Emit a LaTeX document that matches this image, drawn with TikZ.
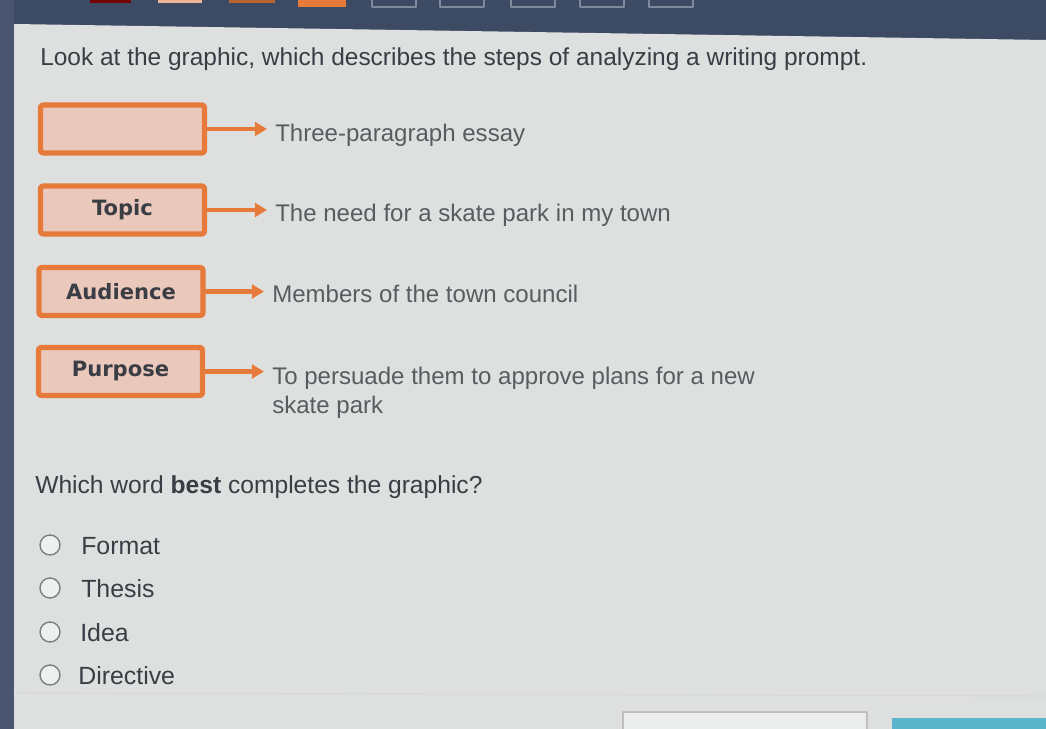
\documentclass[tikz,border=0pt]{standalone}
\usepackage{fontspec}
\setmainfont{Liberation Sans}
\newfontfamily\boxfont{DejaVu Sans}
\usepackage{xcolor}
\usetikzlibrary{arrows.meta,positioning}
\definecolor{screen}{HTML}{3D4A63}
\definecolor{rim}{HTML}{4A5671}
\definecolor{panel}{HTML}{DEE0DF}
\definecolor{orange}{HTML}{E67A3A}
\definecolor{peach}{HTML}{EBC8BC}
\definecolor{ink}{HTML}{3A3D44}
\definecolor{soft}{HTML}{595B60}
\definecolor{ring}{HTML}{7C7E82}
\definecolor{teal}{HTML}{5CB6CB}
\tikzset{
  StepBox/.style={
    draw=orange, line width=3.8pt,
    fill=peach, rounded corners=2pt,
    minimum width=4.1cm, minimum height=1.2cm, inner sep=0pt,
    text=ink, font=\boxfont\bfseries\fontsize{15}{18}\selectfont
  },
  StepText/.style={
    anchor=base west, inner sep=0pt, align=left,
    text=soft, font=\fontsize{17.1}{20.6}\selectfont
  },
  StepArrow/.style={
    draw=orange, line width=3pt,
    -{Triangle[length=3mm,width=3.4mm]}, shorten >=0.2cm
  },
  Choice/.style={
    circle, draw=ring, line width=1pt, fill=panel!50!white,
    minimum size=0.5cm, inner sep=0pt
  },
  ChoiceText/.style={
    anchor=base west, inner sep=0pt,
    text=ink, font=\fontsize{17.7}{21}\selectfont
  },
  Tab/.style={draw=rim!70!white, line width=0.8pt}
}

\begin{document}
\begin{tikzpicture}[x=0.025cm, y=-0.025cm, line cap=round, line join=round]
  \useasboundingbox (0,0) rectangle (1046,729);

  % Screen frame and page panel
  \fill[screen] (0,0) rectangle (1046,729);
  \fill[rim] (0,0) rectangle (14,729);
  \fill[panel] (14,24) -- (1046,40) -- (1046,729) -- (14,729) -- cycle;

  % Question tabs along the top edge
  \fill[red!45!black] (90,-1) rectangle (131,3);
  \fill[orange!55!white] (158,-1) rectangle (202,3);
  \fill[orange!80!black] (229,-1) rectangle (275,3);
  \fill[orange] (298,-1) rectangle (346,7);
  \foreach \x in {372,440,511,580,649}
    \draw[Tab] (\x,-2) rectangle ++(44,9);

  % Prompt
  \node[anchor=base west, inner sep=0pt, text=ink, font=\fontsize{17.4}{21}\selectfont]
    (prompt) at (40,66) {Look at the graphic, which describes the steps of analyzing a writing prompt.};

  % Graphic: steps and what they point to
  \node[StepBox] (blank) at (122.5,129) {};
  \node[StepBox] (topic) at (122.5,210) {Topic};
  \node[StepBox] (audience) at (121,291.5) {Audience};
  \node[StepBox] (purpose) at (120.5,371.5) {Purpose};

  \node[StepText] (essay) at (275,142) {Three-paragraph essay};
  \node[StepText] (need) at (275,221) {The need for a skate park in my town};
  \node[StepText] (council) at (272,302) {Members of the town council};
  % base of a two-line node sits on its last line
  \node[StepText] (persuade) at (272,413) {To persuade them to approve plans for a new\\skate park};

  \draw[StepArrow] (blank.east) -- (blank.east -| essay.west);
  \draw[StepArrow] (topic.east) -- (topic.east -| need.west);
  \draw[StepArrow] (audience.east) -- (audience.east -| council.west);
  \draw[StepArrow] (purpose.east) -- (purpose.east -| persuade.west);

  % Question and answer choices
  \node[anchor=base west, inner sep=0pt, text=ink, font=\fontsize{17.5}{21}\selectfont]
    (question) at (35,493) {Which word \textbf{best} completes the graphic?};

  \node[Choice] (c1) at (50,545) {};
  \node[Choice] (c2) at (50,588) {};
  \node[Choice] (c3) at (50,632) {};
  \node[Choice] (c4) at (50,675) {};
  \node[ChoiceText] (format) at (81,554) {Format};
  \node[ChoiceText] (thesis) at (81,597) {Thesis};
  \node[ChoiceText] (idea) at (80,641) {Idea};
  \node[ChoiceText] (directive) at (78,684) {Directive};

  % Footer
  \draw[black!15, line width=1pt] (14,693) -- (1046,696);
  \filldraw[fill=panel!60!white, draw=black!25, line width=0.8pt] (623,712) rectangle (867,731);
  \fill[teal] (892,718) rectangle (1046,731);
\end{tikzpicture}
\end{document}
